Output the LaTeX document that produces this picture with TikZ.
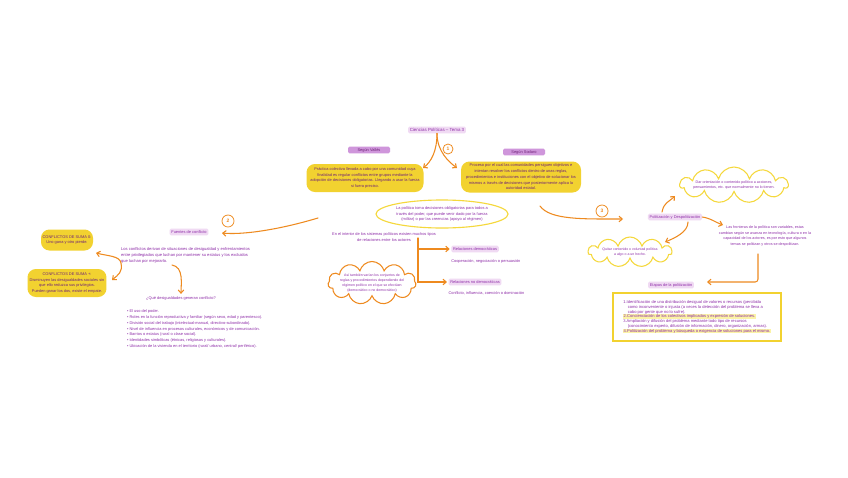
\documentclass[tikz,border=0pt]{standalone}
\usepackage{fontspec}
\setmainfont{Liberation Sans}
\usepackage{tikz}
\usetikzlibrary{shapes.geometric, shapes.symbols, arrows.meta, positioning, calc}

\definecolor{purp}{HTML}{8E2DA8}
\definecolor{lav}{HTML}{F0DAF3}
\definecolor{lavdk}{HTML}{CF96DB}
\definecolor{ylw}{HTML}{F2D230}
\definecolor{yline}{HTML}{F5D83C}
\definecolor{org}{HTML}{EE8A1F}
\definecolor{hl}{HTML}{FBF3A6}
\definecolor{ytxt}{HTML}{6E2277}

\newcommand{\bodyfont}{\fontsize{5.6}{8.2}\selectfont}
\newcommand{\lblfont}{\fontsize{5.6}{6}\selectfont}
\newcommand{\cldfont}{\fontsize{5}{7.4}\selectfont}
\setlength{\fboxsep}{0.6pt}

\begin{document}
\begin{tikzpicture}[x=0.05cm, y=-0.05cm,
  lbl/.style={fill=lav, rounded corners=2pt, inner xsep=2.5pt, inner ysep=1.2pt, minimum height=0.33cm, text=purp, font=\lblfont},
  lbldk/.style={lbl, fill=lavdk, text=ytxt, minimum width=2.1cm},
  ybox/.style={fill=ylw, rounded corners=12pt, align=center, text=ytxt, font=\bodyfont, inner sep=2pt},
  txt/.style={text=purp, font=\bodyfont, align=center, inner sep=0pt},
  cld/.style={cloud, cloud puffs=11, cloud ignores aspect, draw=#1, line width=1.5pt, inner sep=0pt},
  num/.style={circle, draw=org, text=org, line width=1.1pt, inner sep=0pt, minimum size=0.5cm, font=\bfseries\fontsize{7}{7}\selectfont},
  arr/.style={-{Straight Barb[length=1.6mm, width=2.8mm]}, draw=org, line width=1.5pt, line cap=round},
]
\useasboundingbox (0,0) rectangle (848,477);
\fill[white] (0,0) rectangle (848,477);

% === Title and definitions ===
\node[lbl, font=\fontsize{6.3}{7}\selectfont, inner ysep=1.8pt] (titulo) at (437,130) {Ciencias Políticas – Tema 3};
\node[lbldk] (valles) at (369,150) {Según Vallès};
\node[lbldk] (sodaro) at (524,152) {Según Sodaro};
\node[ybox, minimum width=5.85cm, minimum height=1.4cm] (defvalles) at (365,178) {Práctica colectiva llevada a cabo por una comunidad cuya\\finalidad es regular conflictos entre grupos mediante la\\adopción de decisiones obligatorias. Llegando a usar la fuerza\\si fuera preciso.};
\node[ybox, minimum width=6cm, minimum height=1.55cm] (defsodaro) at (521,177) {Proceso por el cual las comunidades persiguen objetivos e\\intentan resolver los conflictos dentro de unas reglas,\\procedimientos e instituciones con el objetivo de solucionar los\\mismos a través de decisiones que posteriormente aplica la\\autoridad estatal.};

\node[num] (n1) at (448,149) {1};
\coordinate (t1l) at (423,168);
\coordinate (t1r) at (457,168);
\draw[arr] (titulo.south) .. controls +(0,18) and +(8,-6) .. (t1l);
\draw[arr] (titulo.south) .. controls +(0,18) and +(-8,-6) .. (t1r);

% === Middle: power and relations ===
\node[txt] (poder) at (442,214) {La política toma decisiones obligatorias para todos a\\través del poder, que puede venir dado por la fuerza\\(militar) o por las creencias (apoyo al régimen)};
\draw[yline, line width=1.6pt] (poder.center) ellipse [x radius=3.3cm, y radius=0.7cm];

\node[txt] (interior) at (384,237) {En el interior de los sistemas políticos existen muchos tipos\\de relaciones entre los actores};
\node[lbl] (rdem) at (475,249) {Relaciones democráticas};
\node[txt, below right=0.36cm and 0cm of rdem.south west] (coop) {Cooperación, negociación o persuasión};
\node[lbl] (rnodem) at (475,282) {Relaciones no democráticas};
\node[txt, below right=0.28cm and 0cm of rnodem.south west] (confl) {Conflicto, influencia, coerción o dominación};

\coordinate (brtop) at (418,238);
\draw[arr, shorten >=2pt] (brtop) |- (rnodem);
\draw[arr, shorten >=2pt] (brtop |- rdem) -- (rdem);

\node[cld=org, minimum width=4.4cm, minimum height=2.15cm] (nube) at (372,283) {};
\node[txt, font=\cldfont] (regimen) at (nube) {Así también varían los conjuntos de\\reglas y procedimientos dependiendo del\\régimen político en el que se efectúen\\(democrático o no democrático)};

% === Left: sources of conflict ===
\coordinate (a2s) at (318,218);
\coordinate (a2t) at (222,233);
\node[lbl] (fuentes) at (189,232) {Fuentes de conflicto};
\draw[arr] (a2s) .. controls +(-40,12) and +(20,2) .. (a2t);
\node[num, minimum size=0.6cm] (n2) at (228,221) {2};

\node[txt, align=left, anchor=west, font=\fontsize{5.8}{8.2}\selectfont] (conflictos) at (121,255.5) {Los conflictos derivan de situaciones de desigualdad y enfrentamientos\\entre privilegiados que luchan por mantener su estatus y los excluidos\\que luchan por mejorarlo.};
\node[ybox, minimum width=2.6cm, minimum height=1.05cm] (suma0) at (67,240) {CONFLICTOS DE SUMA 0:\\Uno gana y otro pierde.};
\node[ybox, minimum width=3.95cm, minimum height=1.4cm] (sumamas) at (67,283) {CONFLICTOS DE SUMA +:\\Disminuyen las desigualdades sociales sin\\que ello reduzca sus privilegios.\\Pueden ganar los dos, existe el empate.};

\coordinate (brc) at (121,263);
\coordinate (s0t) at (96,253);
\coordinate (smt) at (112,280);
\draw[arr] (brc) .. controls +(-1,-7) and +(12,3) .. (s0t);
\draw[arr] (brc) .. controls +(2,9) and +(6,-5) .. (smt);

\node[txt] (pregunta) at (181,298) {¿Qué desigualdades generan conflicto?};
\coordinate (q0) at (172,265);
\draw[arr, shorten >=3pt] (q0) .. controls +(12,2) and +(0,-12) .. (pregunta.north);

\node[txt, align=left, anchor=west, font=\fontsize{5.6}{8.2}\selectfont] (lista) at (127,329) {•\ El uso del poder.\\•\ Roles en la función reproductiva y familiar (según sexo, edad y parentesco).\\•\ División social del trabajo (intelectual-manual, directivo-subordinado).\\•\ Nivel de influencia en procesos culturales, económicos y de comunicación.\\•\ Barrios o estatus (rural o clase social).\\•\ Identidades simbólicas (étnicas, religiosas y culturales).\\•\ Ubicación de la vivienda en el territorio (rural/ urbano, central/ periférico).};

% === Right: politicization ===
\coordinate (a3s) at (540,206);
\coordinate (a3t) at (623,219);
\node[lbl] (politiz) at (675,217) {Politización y Despolitización};
\draw[arr] (a3s) .. controls +(10,14) and +(-40,0) .. (a3t);
\node[num, minimum size=0.6cm] (n3) at (602,211) {3};

\node[cld=yline, minimum width=5.4cm, minimum height=1.8cm] (nubepol) at (734,185) {};
\node[txt, font=\fontsize{5.2}{7.6}\selectfont] (poltext) at (nubepol) {Dar orientación o contenido político a acciones,\\pensamientos, etc. que normalmente no lo tienen.};
\node[cld=yline, minimum width=4.2cm, minimum height=1.5cm] (nubedes) at (630,252) {};
\node[txt, font=\cldfont] (destext) at (nubedes) {Quitar contenido o voluntad política\\a algo o a un hecho.};

\coordinate (p1s) at (662,212);
\coordinate (p1t) at (675,196);
\coordinate (p2s) at (688,222);
\coordinate (p2t) at (665,242);
\coordinate (p3t) at (723,225);
\draw[arr] (p1s) .. controls +(2,-10) and +(-6,6) .. (p1t);
\draw[arr] (p2s) .. controls +(0,10) and +(10,-4) .. (p2t);
\draw[arr] (politiz.east) .. controls +(8,1) and +(-6,-2) .. (p3t);

\node[txt, font=\fontsize{5.3}{8}\selectfont] (fronteras) at (765,236) {Las fronteras de la política son variables, estas\\cambian según se avanza en tecnología, cultura o en la\\capacidad de los actores, es por esto que algunos\\temas se politizan y otros se despolitizan.};

\coordinate (e0) at (758,254);
\coordinate (e1) at (707,282);
\node[lbl] (etlbl) at (671,285) {Etapas de la politización};
\draw[arr, rounded corners=4pt] (e0) |- (e1);

\node[draw=ylw, line width=1.6pt, minimum width=8.4cm, minimum height=2.4cm, text=purp, align=left, font=\fontsize{5.8}{6.8}\selectfont] (etapas) at (697,317) {1.Identificación de una distribución desigual de valores o recursos (percibida\\\hspace*{1.1em}como inconveniente o injusta (a veces la detección del problema se lleva a\\\hspace*{1.1em}cabo por gente que no lo sufre).\\\colorbox{hl}{2.Concienciación de los colectivos implicados y expresión de soluciones.}\\3.Ampliación y difusión del problema mediante todo tipo de recursos\\\hspace*{1.1em}(conocimiento experto, difusión de información, dinero, organización, armas).\\\colorbox{hl}{4.Politización del problema y búsqueda o exigencia de soluciones para el mismo.}};
\end{tikzpicture}
\end{document}
